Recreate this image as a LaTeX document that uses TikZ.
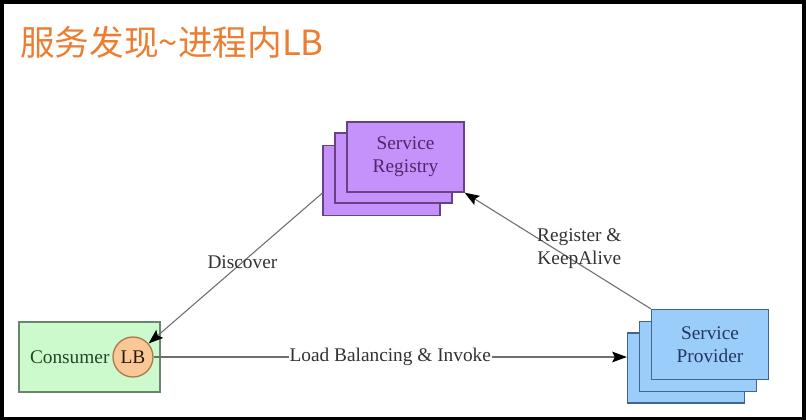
\documentclass[tikz,border=0pt]{standalone}
\usepackage{fontspec}
\setmainfont{Liberation Serif}
\newfontfamily\cjk{Noto Sans CJK SC}
\usepackage{xcolor}
\usetikzlibrary{positioning,arrows.meta,calc}
\definecolor{titleorange}{RGB}{237,125,49}
\definecolor{regfill}{RGB}{196,146,250}
\definecolor{regdraw}{RGB}{105,65,135}
\definecolor{regtext}{RGB}{80,40,105}
\definecolor{provfill}{RGB}{155,205,250}
\definecolor{provdraw}{RGB}{65,100,145}
\definecolor{provtext}{RGB}{35,55,100}
\definecolor{consfill}{RGB}{205,250,205}
\definecolor{consdraw}{RGB}{105,135,110}
\definecolor{constext}{RGB}{35,70,40}
\definecolor{lbfill}{RGB}{250,200,150}
\definecolor{lbdraw}{RGB}{175,120,80}
\definecolor{linegray}{RGB}{110,110,110}

\begin{document}
\begin{tikzpicture}[
  x=0.75pt, y=-0.75pt,
  every node/.style={font=\fontsize{14.5}{17.25}\selectfont},
  stack/.style={draw, line width=1pt, minimum width=87.75pt, minimum height=52.5pt,
                align=center, inner sep=0pt},
  regbox/.style={stack, fill=regfill, draw=regdraw, text=regtext},
  provbox/.style={stack, fill=provfill, draw=provdraw, text=provtext},
  arr/.style={-{Stealth[length=11pt, width=8pt, inset=2pt, black]}, draw=linegray, line width=0.8pt},
  lbl/.style={text=black!80, align=center, inner sep=1pt},
]
% frame
\fill[black] (0,0) rectangle (806,420);
\fill[white] (4,4) rectangle (802,417);
\useasboundingbox (0,0) rectangle (806,420);

\node[anchor=west, text=titleorange, font=\cjk\fontsize{26}{31}\selectfont, inner sep=0pt] (title) at (20,42) {服务发现\~{}进程内LB};

% registry
\node[regbox] (reg3) at (381.5,180.5) {};
\node[regbox] (reg2) at (393.5,168)   {};
\node[regbox] (reg)  at (405.5,157)   {Service\\Registry};

% provider
\node[provbox] (prov3) at (686,368)   {};
\node[provbox] (prov2) at (698,356.5) {};
\node[provbox] (prov)  at (710,344.5) {Service\\Provider};

% consumer
\node[draw=consdraw, fill=consfill, text=constext, line width=1pt,
      minimum height=52.5pt, text width=89.25pt, inner sep=8.25pt, align=left] (cons) at (89.5,357) {Consumer};
\node[circle, draw=lbdraw, fill=lbfill, text=black!80!brown, line width=1pt,
      minimum size=30pt, inner sep=0pt] (lb) at (133,357) {LB};

\draw[arr] (reg3.192) -- node[lbl, pos=0.46] {Discover} (lb);
\draw[arr] (prov.north west) -- node[lbl, pos=0.52, xshift=19pt] {Register \&\\KeepAlive} (reg.south east);
\draw[arr] (lb.east) -- node[lbl, fill=white, inner sep=0.5pt] {Load Balancing \& Invoke} (lb.east -| prov3.west);
\end{tikzpicture}
\end{document}
